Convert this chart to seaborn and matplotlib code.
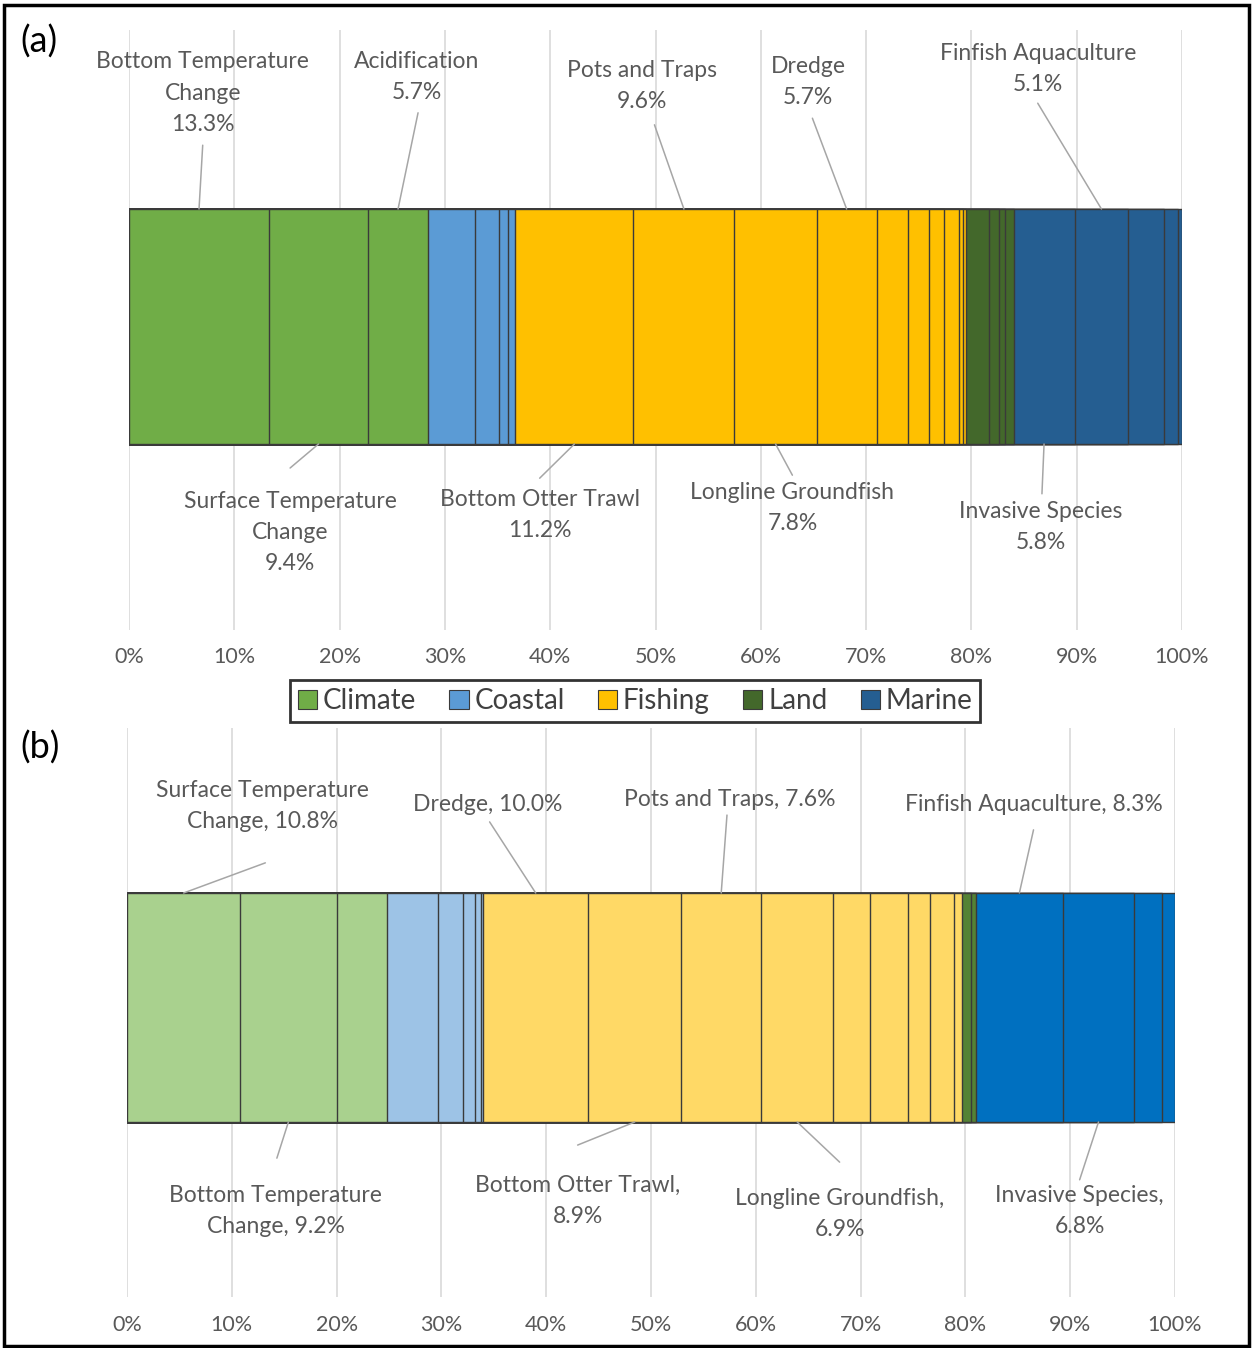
import matplotlib
matplotlib.use('Agg')
import matplotlib.pyplot as plt
from matplotlib.patches import Patch, Rectangle
import numpy as np
import seaborn as sns

sns.set_theme(style='white')
plt.rcParams['font.family'] = ['Lato', 'DejaVu Sans']

# ---- data (percent of total, left to right) ----
categories = ['Climate', 'Coastal', 'Fishing', 'Land', 'Marine']

a_climate = [13.3, 9.4, 5.7]
a_coastal = [4.5, 2.2, 0.9, 0.7]
a_fishing = [11.2, 9.6, 7.8, 5.7, 3.0, 2.0, 1.4, 1.4, 0.4, 0.3]
a_land = [2.2, 0.9, 0.6, 0.8]
a_marine = [5.8, 5.1, 3.4, 1.3, 0.4]

b_climate = [10.8, 9.2, 4.8]
b_coastal = [4.9, 2.4, 1.1, 0.6, 0.2]
b_fishing = [10.0, 8.9, 7.6, 6.9, 3.5, 3.6, 2.1, 2.3, 0.8]
b_land = [0.8, 0.5]
b_marine = [8.3, 6.8, 2.7, 1.2]

a_colors = ['#70AD47', '#5B9BD5', '#FFC000', '#43682B', '#255E91']
b_colors = ['#A9D18E', '#9DC3E6', '#FFD966', '#548235', '#0070C0']

# labels: (text, category, index in category, above/below)
a_labels = [('Bottom Temperature\nChange\n{:.1f}%', 'Climate', 0, 'top'),
            ('Acidification\n{:.1f}%', 'Climate', 2, 'top'),
            ('Pots and Traps\n{:.1f}%', 'Fishing', 1, 'top'),
            ('Dredge\n{:.1f}%', 'Fishing', 3, 'top'),
            ('Finfish Aquaculture\n{:.1f}%', 'Marine', 1, 'top'),
            ('Surface Temperature\nChange\n{:.1f}%', 'Climate', 1, 'bottom'),
            ('Bottom Otter Trawl\n{:.1f}%', 'Fishing', 0, 'bottom'),
            ('Longline Groundfish\n{:.1f}%', 'Fishing', 2, 'bottom'),
            ('Invasive Species\n{:.1f}%', 'Marine', 0, 'bottom')]
b_labels = [('Surface Temperature\nChange, {:.1f}%', 'Climate', 0, 'top'),
            ('Dredge, {:.1f}%', 'Fishing', 0, 'top'),
            ('Pots and Traps, {:.1f}%', 'Fishing', 2, 'top'),
            ('Finfish Aquaculture, {:.1f}%', 'Marine', 0, 'top'),
            ('Bottom Temperature\nChange, {:.1f}%', 'Climate', 1, 'bottom'),
            ('Bottom Otter Trawl,\n{:.1f}%', 'Fishing', 1, 'bottom'),
            ('Longline Groundfish,\n{:.1f}%', 'Fishing', 3, 'bottom'),
            ('Invasive Species,\n{:.1f}%', 'Marine', 1, 'bottom')]

# label layout: text (x %, y axes frac), leader start (x %, y axes frac)
a_pos = [((7.0, 0.895), (7.0, 0.808)), ((27.35, 0.922), (27.45, 0.862)),
         ((48.7, 0.907), (49.9, 0.842)), ((64.5, 0.913), (64.9, 0.853)),
         ((86.3, 0.935), (86.3, 0.878)), ((15.3, 0.163), (15.3, 0.27)),
         ((39.0, 0.192), (39.0, 0.253)), ((63.0, 0.203), (63.0, 0.258)),
         ((86.6, 0.172), (86.7, 0.227))]
b_pos = [((12.9, 0.863), (13.2, 0.763)), ((34.4, 0.866), (34.6, 0.835)),
         ((57.5, 0.875), (57.25, 0.847)), ((86.5, 0.866), (86.5, 0.821)),
         ((14.2, 0.151), (14.3, 0.244)), ((43.0, 0.169), (43.0, 0.267)),
         ((68.0, 0.146), (68.0, 0.237)), ((90.9, 0.151), (90.9, 0.206))]

W, H = 1253, 1348
fig = plt.figure(figsize=(W / 100, H / 100), dpi=100)

txt_col = '#595959'
line_col = '#a6a6a6'


def panel(rect_px, bar_px, groups, colors, labels, pos, tickpad):
    left, top, right, bottom = rect_px
    ax = fig.add_axes([left / W, 1 - bottom / H, (right - left) / W, (bottom - top) / H])
    segs, cols = [], []
    for g, c in zip(groups, colors):
        segs += g
        cols += [c] * len(g)
    cum = np.cumsum(segs)
    # draw longest first so shorter cumulative bars sit on top
    for i in range(len(segs) - 1, -1, -1):
        sns.barplot(x=[cum[i]], y=[0], orient='h', color=cols[i], saturation=1,
                    width=0.8, edgecolor='#3a3a3a', linewidth=1.0, ax=ax, zorder=3)
    # y limits so the bar lands where it sits in the picture
    btop, bbot = bar_px
    unit = (bbot - btop) / 0.8
    centre = (btop + bbot) / 2
    ax.set_ylim((bottom - centre) / unit, (top - centre) / unit)
    ax.set_xlim(0, 100)
    ax.set_xticks(np.arange(0, 101, 10))
    ax.set_xticklabels([f'{t}%' for t in range(0, 101, 10)], color=txt_col, fontsize=15.5)
    ax.tick_params(axis='x', length=0, pad=tickpad)
    ax.set_yticks([])
    ax.set_ylabel('')
    ax.set_xlabel('')
    ax.grid(axis='x', color='#d9d9d9', linewidth=1.2, zorder=0)
    ax.set_axisbelow(True)
    sns.despine(ax=ax, left=True, bottom=True)

    starts = {}
    k = 0
    for name, g in zip(categories, groups):
        starts[name] = k
        k += len(g)
    for (fmt, cat, idx, side), (tp, lp) in zip(labels, pos):
        j = starts[cat] + idx
        mid = cum[j] - segs[j] / 2
        ey = -0.4 if side == 'top' else 0.4
        ax.annotate('', xy=(mid, ey), xycoords='data',
                    xytext=lp, textcoords=ax.get_xaxis_transform(),
                    arrowprops=dict(arrowstyle='-', color=line_col, lw=1.1,
                                    shrinkA=0, shrinkB=0))
        ax.text(tp[0], tp[1], fmt.format(segs[j]), transform=ax.get_xaxis_transform(),
                ha='center', va='center', color=txt_col, fontsize=16.5,
                linespacing=1.6)
    return ax


panel((129, 30, 1182, 630), (209, 444),
      [a_climate, a_coastal, a_fishing, a_land, a_marine], a_colors,
      a_labels, a_pos, 12)
panel((127, 728, 1175, 1297), (893, 1122),
      [b_climate, b_coastal, b_fishing, b_land, b_marine], b_colors,
      b_labels, b_pos, 13)

fig.text(20 / W, 1 - 42 / H, '(a)', fontsize=26, color='black', va='center', ha='left')
fig.text(20 / W, 1 - 748 / H, '(b)', fontsize=26, color='black', va='center', ha='left')

handles = [Patch(facecolor=c, edgecolor='#3a3a3a', linewidth=0.8) for c in a_colors]
leg = fig.legend(handles, categories, loc='center', bbox_to_anchor=(635 / W, 1 - 701 / H),
                 ncol=5, fontsize=20, frameon=True, fancybox=False,
                 handlelength=0.7, handleheight=0.7, handletextpad=0.2,
                 columnspacing=1.2, borderpad=0.28, borderaxespad=0)
leg.get_frame().set_edgecolor('black')
leg.get_frame().set_linewidth(2)
for t in leg.get_texts():
    t.set_color('#404040')

# outer border
fig.patches.append(Rectangle((4 / W, 2 / H), 1 - 8 / W, 1 - 7 / H, transform=fig.transFigure,
                             fill=False, edgecolor='black', linewidth=2.5))

fig.savefig('out.png', dpi=100)
